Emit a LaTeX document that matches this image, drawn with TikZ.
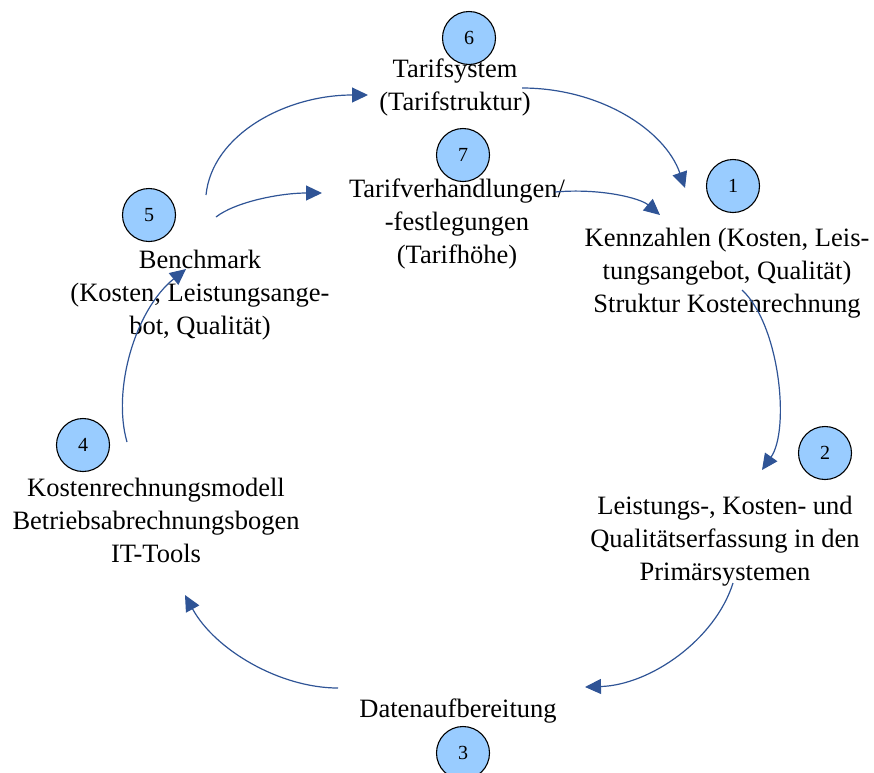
\documentclass[tikz,border=0pt]{standalone}
\usepackage{fontspec}
\setmainfont{Liberation Serif}
\usetikzlibrary{arrows.meta}
\definecolor{arrowblue}{RGB}{47,84,150}
\definecolor{numfill}{RGB}{153,204,255}
\begin{document}
\begin{tikzpicture}[x=1pt,y=-1pt,
  lbl/.style={anchor=base, align=center, inner sep=0pt, font=\fontsize{26.5}{33}\selectfont},
  num/.style={circle, draw=black, line width=1.1pt, fill=numfill, minimum size=53pt, inner sep=0pt, font=\fontsize{20}{22}\selectfont},
  flow/.style={draw=arrowblue, line width=1.2pt, -{Triangle[length=16pt,width=15pt]}, arrowblue}]
\useasboundingbox (0,0) rectangle (874,772);

% numbered circles
\node[num] (c6) at (469,38) {6};
\node[num] (c7) at (463,155) {7};
\node[num] (c1) at (733,186) {1};
\node[num] (c5) at (149,215) {5};
\node[num] (c4) at (83,445) {4};
\node[num] (c2) at (825,453) {2};
\node[num] (c3) at (463,753) {3};

% labels (anchored at the baseline of the last line)
\node[lbl] (tarif) at (455,110) {Tarifsystem\\(Tarifstruktur)};
\node[lbl] (verh) at (457,263) {Tarifverhandlungen/\\-festlegungen\\(Tarifhöhe)};
\node[lbl] (kenn) at (727,312) {Kennzahlen (Kosten, Leis-\\tungsangebot, Qualität)\\Struktur Kostenrechnung};
\node[lbl] (leist) at (725,580) {Leistungs-, Kosten- und\\Qualitätserfassung in den\\Primärsystemen};
\node[lbl] (daten) at (458,717) {Datenaufbereitung};
\node[lbl] (kosten) at (156,562) {Kostenrechnungsmodell\\Betriebsabrechnungsbogen\\IT-Tools};
\node[lbl] (bench) at (200,334) {Benchmark\\(Kosten, Leistungsange-\\bot, Qualität)};

% connector end points
\coordinate (s1) at (522,88);  \coordinate (e1) at (685,188);
\coordinate (s2) at (555,192); \coordinate (e2) at (660,215);
\coordinate (s3) at (742,290); \coordinate (e3) at (762,470);
\coordinate (s4) at (733,583); \coordinate (e4) at (585,687);
\coordinate (s5) at (338,688); \coordinate (e5) at (185,595);
\coordinate (s6) at (127,442); \coordinate (e6) at (186,269);
\coordinate (s7) at (206,195); \coordinate (e7) at (368,95);
\coordinate (s8) at (216,217); \coordinate (e8) at (322,193);

% connectors
\draw[flow] (s1) .. controls (600,88) and (665,130) .. (e1);
\draw[flow] (s2) .. controls (600,188) and (640,198) .. (e2);
\draw[flow] (s3) .. controls (780,325) and (790,430) .. (e3);
\draw[flow] (s4) .. controls (715,640) and (650,685) .. (e4);
\draw[flow] (s5) .. controls (280,688) and (215,650) .. (e5);
\draw[flow] (s6) .. controls (112,390) and (135,310) .. (e6);
\draw[flow] (s7) .. controls (212,135) and (285,95) .. (e7);
\draw[flow] (s8) .. controls (235,202) and (280,193) .. (e8);
\end{tikzpicture}
\end{document}
